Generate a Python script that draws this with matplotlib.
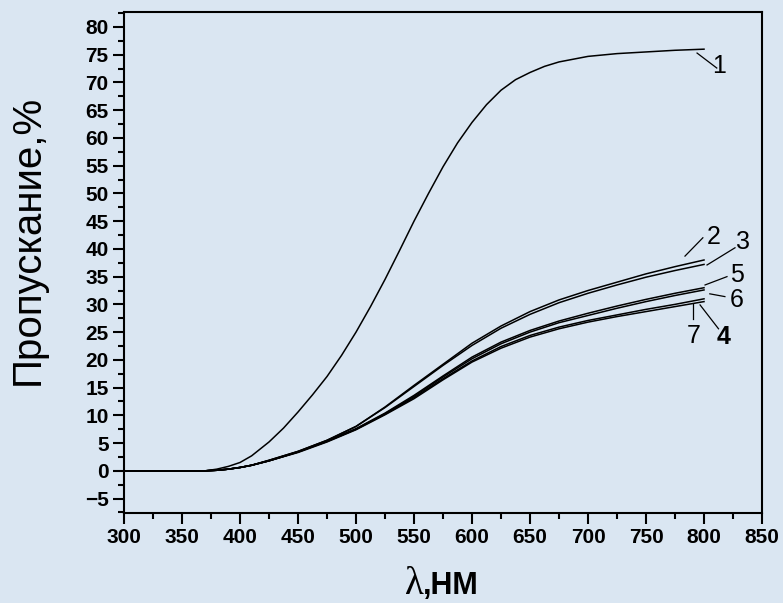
import matplotlib.pyplot as plt
from matplotlib.ticker import MultipleLocator

# wavelength, nm
wl = [300, 350, 370, 380, 390, 400, 410, 425, 450, 475, 500, 525, 550,
      575, 600, 625, 650, 675, 700, 725, 750, 775, 800]
wl1 = [300, 350, 370, 380, 390, 400, 410, 425, 437.5, 450, 462.5, 475,
       487.5, 500, 512.5, 525, 537.5, 550, 562.5, 575, 587.5, 600, 612.5,
       625, 637.5, 650, 662.5, 675, 700, 725, 750, 775, 800]

# transmission, %
t1 = [0, 0, 0, 0.3, 0.8, 1.5, 2.7, 5.2, 7.7, 10.6, 13.7, 17.0, 20.8,
      25.0, 29.6, 34.5, 39.7, 45.0, 50.0, 54.8, 59.1, 62.8, 66.0,
      68.6, 70.5, 71.8, 72.9, 73.7, 74.7, 75.2, 75.5, 75.8, 76.0]
t2 = [0, 0, 0, 0.1, 0.3, 0.6, 1.0, 1.9, 3.5, 5.5, 8.0, 11.5, 15.4,
      19.2, 23.0, 26.1, 28.7, 30.8, 32.5, 34.0, 35.5, 36.8, 38.0]
t3 = [0, 0, 0, 0.1, 0.3, 0.6, 1.0, 1.9, 3.5, 5.5, 8.0, 11.4, 15.2,
      19.0, 22.6, 25.7, 28.2, 30.3, 32.0, 33.5, 34.9, 36.1, 37.2]
t4 = [0, 0, 0, 0.1, 0.3, 0.6, 1.0, 1.8, 3.4, 5.3, 7.5, 10.2, 13.2,
      16.6, 19.8, 22.4, 24.4, 25.9, 27.1, 28.1, 29.1, 30.0, 31.0]
t5 = [0, 0, 0, 0.1, 0.3, 0.6, 1.0, 1.8, 3.4, 5.4, 7.6, 10.4, 13.6,
      17.1, 20.5, 23.2, 25.3, 27.0, 28.4, 29.7, 30.9, 32.0, 33.0]
t6 = [0, 0, 0, 0.1, 0.3, 0.6, 1.0, 1.8, 3.4, 5.3, 7.5, 10.3, 13.4,
      16.9, 20.2, 22.9, 25.0, 26.7, 28.0, 29.3, 30.5, 31.6, 32.6]
t7 = [0, 0, 0, 0.1, 0.3, 0.6, 1.0, 1.8, 3.3, 5.2, 7.4, 10.1, 13.0,
      16.4, 19.6, 22.1, 24.1, 25.6, 26.8, 27.8, 28.7, 29.6, 30.5]

curves = [(wl1, t1), (wl, t2), (wl, t3), (wl, t4), (wl, t5), (wl, t6),
          (wl, t7)]

# curve labels: text, label position, leader line start and end
labels = ['1', '2', '3', '4', '5', '6', '7']
label_xy = [(813, 72.9), (808, 42.1), (833.6, 41.2), (816.8, 24.1),
            (828, 35.3), (828, 30.8), (791, 24.3)]
leader_xy = [(794, 75.3), (783.6, 38.7), (802.6, 37.1), (796.6, 29.9),
             (800.9, 33.5), (805, 31.9), (790.5, 30.0)]
leader_end = [(811, 72.6), (799, 42.0), (826.7, 40.2), (812.5, 25.6),
              (819.8, 35.0), (818, 31.4), (790.5, 27.4)]

bg = '#dae6f2'

fig = plt.figure(figsize=(7.83, 6.03), dpi=100, facecolor=bg)
ax = fig.add_axes([0.1584, 0.1493, 0.8148, 0.8308], facecolor=bg)

for x, t in curves:
    ax.plot(x, t, color='black', lw=1.1)

for s, p, a, b in zip(labels, label_xy, leader_xy, leader_end):
    ax.plot([a[0], b[0]], [a[1], b[1]], color='black', lw=0.9, clip_on=False)
    ax.text(p[0], p[1], s, fontsize=18, ha='center', va='center',
            family='Liberation Sans',
            fontweight='bold' if s == '4' else 'normal', clip_on=False)

ax.set_xlim(300, 850)
ax.set_ylim(-7.6, 82.7)
ax.xaxis.set_major_locator(MultipleLocator(50))
ax.xaxis.set_minor_locator(MultipleLocator(25))
ax.yaxis.set_minor_locator(MultipleLocator(2.5))
ax.set_yticks(range(-5, 81, 5))

ax.tick_params(which='major', direction='out', length=8, width=1.5,
               labelsize=15, pad=3)
ax.tick_params(which='minor', direction='out', length=4, width=1.5)
for lab in ax.get_xticklabels() + ax.get_yticklabels():
    lab.set_fontweight('bold')
    lab.set_family('Liberation Sans')
for sp in ax.spines.values():
    sp.set_linewidth(1.5)

fig.text(0.036, 1 - 240 / 603, 'Пропускание,%', rotation=90, fontsize=29,
         ha='center', va='center', family='Liberation Sans')
fig.text(405 / 783, 1 - 584 / 603, 'λ', fontsize=28, ha='left', va='center',
         family='Liberation Serif')
fig.text(423 / 783, 1 - 586 / 603, ',НМ', fontsize=22, ha='left',
         va='center', family='Liberation Sans', fontweight='bold')

fig.savefig('out.png', dpi=100, facecolor=bg)
